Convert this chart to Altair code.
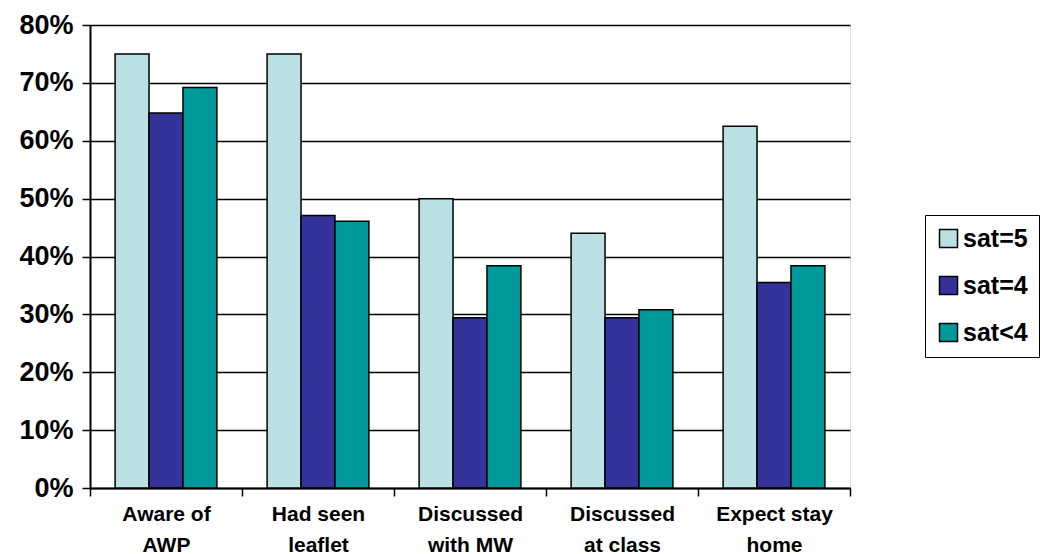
import altair as alt
import pandas as pd

categories = ["Aware of|AWP", "Had seen|leaflet", "Discussed|with MW", "Discussed|at class", "Expect stay|home"]
series = ["sat=5", "sat=4", "sat<4"]
sat5 = [75.0, 75.0, 50.0, 44.0, 62.5]
sat4 = [64.8, 47.1, 29.4, 29.4, 35.5]
satlt4 = [69.2, 46.1, 38.4, 30.8, 38.4]
colors = ["#BBE0E3", "#333399", "#009999"]

rows = []
for i, c in enumerate(categories):
    for s, vals in zip(series, [sat5, sat4, satlt4]):
        rows.append({"category": c, "series": s, "value": vals[i] / 100.0})
df = pd.DataFrame(rows)

FONT = "Liberation Sans"

chart = alt.Chart(df).mark_bar(stroke="black", strokeWidth=1.5).encode(
    x=alt.X("category:N", sort=categories, title=None,
            scale=alt.Scale(paddingInner=0, paddingOuter=0),
            axis=alt.Axis(labelAngle=0, tickBand="extent", tickSize=8, tickColor="black",
                          tickWidth=1.5, domainColor="black", domainWidth=2,
                          labelFont=FONT, labelFontSize=21, labelFontWeight="bold",
                          labelColor="black", labelPadding=7, labelLineHeight=31,
                          labelExpr="split(datum.label, '|')")),
    xOffset=alt.XOffset("series:N", sort=series,
                        scale=alt.Scale(paddingInner=0, paddingOuter=0.74)),
    y=alt.Y("value:Q", title=None,
            scale=alt.Scale(domain=[0, 0.8], nice=False),
            axis=alt.Axis(format="%", values=[0, 0.1, 0.2, 0.3, 0.4, 0.5, 0.6, 0.7, 0.8],
                          tickSize=8, tickColor="black", tickWidth=1.5,
                          domainColor="black", domainWidth=2,
                          grid=True, gridColor="black", gridWidth=1.5,
                          labelFont=FONT, labelFontSize=27, labelFontWeight="bold",
                          labelColor="black", labelPadding=9)),
    color=alt.Color("series:N", sort=series,
                    scale=alt.Scale(domain=series, range=colors),
                    legend=alt.Legend(title=None, orient="none", legendX=835, legendY=190,
                                      symbolType="square", symbolSize=324,
                                      symbolStrokeColor="black", symbolStrokeWidth=1.5,
                                      labelFont=FONT, labelFontSize=25, labelFontWeight="bold",
                                      labelColor="black", rowPadding=21, padding=11,
                                      strokeColor="black", labelOffset=2)),
).properties(
    width=760, height=463,
    padding={"left": 90, "top": 25, "right": 195, "bottom": 66},
    autosize=alt.AutoSizeParams(type="none"),
).configure_view(stroke="black", strokeWidth=2).configure(background="white")

chart.save("out.html", embed_options={"renderer": "svg", "actions": False})
